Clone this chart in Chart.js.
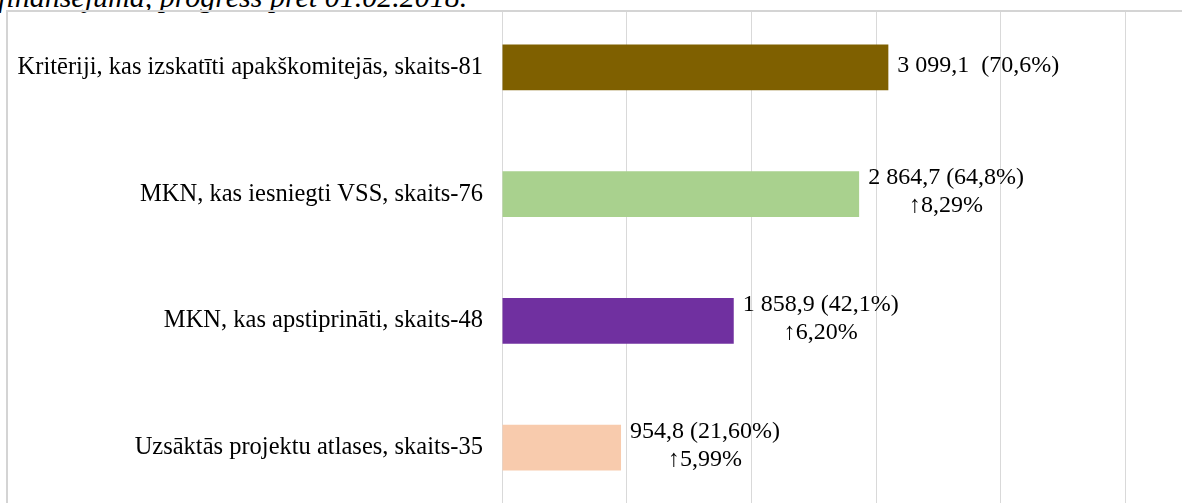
<!DOCTYPE html>
<html>
<head>
<meta charset="utf-8">
<script src="https://cdn.jsdelivr.net/npm/chart.js@4.4.1/dist/chart.umd.min.js"></script>
<style>
  body { margin: 0; width: 1182px; height: 503px; overflow: hidden; background: #fff; position: relative; }
  #caption { position: absolute; left: -2px; top: -20px; font-family: "Liberation Serif", serif; font-style: italic; font-size: 30px; color: #000; white-space: nowrap; }
  #frame { position: absolute; left: 6px; top: 10px; width: 1190px; height: 500px; border-top: 2px solid #d4d4d4; border-left: 2px solid #d4d4d4; }
  #clip { position: absolute; left: 8px; top: 12px; width: 1174px; height: 491px; overflow: hidden; }
  #myChart { position: absolute; left: -8px; top: -12px; }
</style>
</head>
<body>
<div id="caption">finansējuma, progress pret 01.02.2018.</div>
<div id="frame"></div>
<div id="clip"><canvas id="myChart" width="1260" height="520" style="width:1260px;height:520px"></canvas></div>
<script>
  // kategorijas no augšas uz leju
  const categories = [
    "Kritēriji, kas izskatīti apakškomitejās, skaits-81",
    "MKN, kas iesniegti VSS, skaits-76",
    "MKN, kas apstiprināti, skaits-48",
    "Uzsāktās projektu atlases, skaits-35"
  ];
  const values = [3099.1, 2864.7, 1858.9, 954.8];
  const valueLabels = ["3 099,1  (70,6%)", "2 864,7 (64,8%)", "1 858,9 (42,1%)", "954,8 (21,60%)"];
  const growth = [null, "↑8,29%", "↑6,20%", "↑5,99%"];
  const barColors = ["#7f6000", "#a9d18e", "#7030a0", "#f8cbad"];
  const xTicks = [0, 1000, 2000, 3000, 4000, 5000, 6000];

  const labelPlugin = {
    id: "barLabels",
    afterDatasetsDraw(chart) {
      const ctx = chart.ctx;
      const meta = chart.getDatasetMeta(0);
      ctx.save();
      ctx.font = "24px 'Liberation Serif', serif";
      ctx.fillStyle = "#000";
      ctx.textBaseline = "middle";
      ctx.textAlign = "center";
      meta.data.forEach((bar, i) => {
        let lines = [valueLabels[i]];
        if (growth[i]) lines.push(growth[i]);
        let w = Math.max(...lines.map(l => ctx.measureText(l).width));
        let cx = bar.x + 9 + w / 2;
        let lh = 28;
        let y0 = bar.y - 2 - (lines.length - 1) * lh / 2;
        lines.forEach((l, k) => ctx.fillText(l, cx, y0 + k * lh));
      });
      ctx.restore();
    }
  };

  const ctx = document.getElementById('myChart').getContext('2d');
  new Chart(ctx, {
    type: 'bar',
    data: {
      labels: categories,
      datasets: [{
        data: values,
        backgroundColor: barColors,
        categoryPercentage: 1,
        barPercentage: 0.36
      }]
    },
    options: {
      indexAxis: 'y',
      responsive: false,
      animation: false,
      layout: { padding: { left: 0, top: 4, right: 10, bottom: 9 } },
      plugins: { legend: { display: false }, tooltip: { enabled: false } },
      scales: {
        x: {
          min: 0,
          max: 6000,
          afterBuildTicks: (scale) => { scale.ticks = xTicks.map(v => ({ value: v })); },
          ticks: { display: false },
          grid: { color: "#d9d9d9", lineWidth: 1, drawTicks: false },
          border: { display: false }
        },
        y: {
          afterFit: (scale) => {
            scale.width = 502;
            scale.paddingTop = 0;
            scale.paddingBottom = 0;
          },
          ticks: {
            color: "#000",
            padding: 11,
            font: { family: "'Liberation Serif', serif", size: 24.5 }
          },
          grid: { display: false },
          border: { display: false }
        }
      }
    },
    plugins: [labelPlugin]
  });
</script>
</body>
</html>
